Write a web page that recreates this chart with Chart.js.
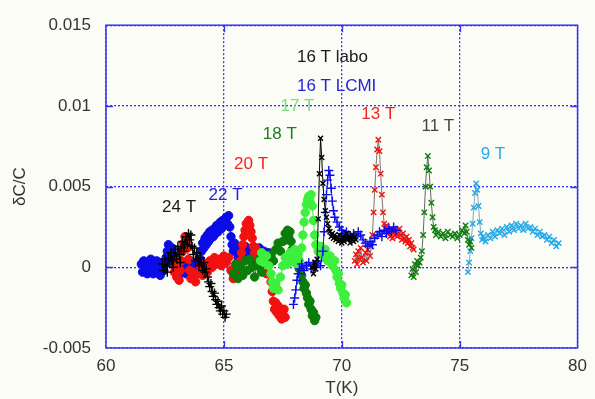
<!DOCTYPE html>
<html>
<head>
<meta charset="utf-8">
<script src="https://cdn.jsdelivr.net/npm/chart.js@4/dist/chart.umd.min.js"></script>
<style>
  html, body { margin: 0; padding: 0; background: #fcfcf6; }
  canvas { display: block; }
</style>
</head>
<body>
<canvas id="chart" width="595" height="399"></canvas>
<script>
// Axis ticks
const xTicks = [60, 65, 70, 75, 80];
const yTicks = [-0.005, 0, 0.005, 0.01, 0.015];
const yTickLabels = ['-0.005', '0', '0.005', '0.01', '0.015'];

// 24 T
const t24 = [62.4,62.45,62.5,62.55,62.6,62.65,62.7,62.75,62.8,62.85,
             62.9,62.95,63.0,63.05,63.1,63.15,63.2,63.25,63.3,63.35,
             63.4,63.45,63.5,63.55,63.6,63.65,63.7,63.75,63.8,63.85,
             63.9,63.95,64.0,64.05,64.1,64.15,64.2,64.25,64.3,64.35,
             64.4,64.45,64.5,64.55,64.6,64.65,64.7,64.75,64.8,64.85,
             64.9,64.95,65.0,65.05,65.1];
const c24 = [0.0002,-0.0002,0.0005,0.0001,-0.0003,0.0006,0.0002,0.0009,0.0004,0.0000,
             0.0007,0.0011,0.0005,0.0013,0.0008,0.0003,0.0012,0.0016,0.0010,0.0015,
             0.0019,0.0014,0.0021,0.0017,0.0020,0.0013,0.0008,0.0012,0.0004,0.0009,
             0.0005,0.0001,0.0006,0.0002,-0.0002,0.0003,-0.0003,-0.0001,-0.0006,-0.0009,
             -0.0012,-0.0010,-0.0015,-0.0018,-0.0016,-0.0020,-0.0023,-0.0021,-0.0025,-0.0027,
             -0.0024,-0.0029,-0.0027,-0.0031,-0.0029];

// 22 T
const t22 = [61.5,61.55,61.6,61.65,61.7,61.75,61.8,61.85,61.9,61.95,
             62.0,62.05,62.1,62.15,62.2,62.25,62.3,62.35,62.4,62.45,
             62.5,62.55,62.6,62.65,62.7,62.75,62.8,62.85,62.9,62.95,
             63.0,63.05,63.1,63.15,63.2,63.3,63.4,63.5,63.6,63.7,
             63.8,63.9,64.0,64.05,64.1,64.15,64.2,64.25,64.3,64.35,
             64.4,64.45,64.5,64.55,64.6,64.65,64.7,64.75,64.8,64.85,
             64.9,64.95,65.0,65.05,65.1,65.15,65.2,65.25,65.3,65.35,
             65.4,65.45,65.5,65.6,65.7,65.8,65.9,66.0,66.1,66.2,
             66.3,66.4,66.5,66.6,66.7,66.8,66.9,67.0];
const c22 = [0.0002,-0.0003,0.0004,-0.0001,0.0003,-0.0004,0.0001,-0.0002,0.0005,0.0000,
             -0.0004,0.0002,-0.0001,0.0004,-0.0003,0.0001,-0.0005,0.0000,0.0003,-0.0002,
             0.0002,0.0006,0.0010,0.0014,0.0011,0.0007,0.0012,0.0008,0.0004,0.0000,
             -0.0003,0.0002,-0.0005,0.0001,-0.0002,0.0003,-0.0004,0.0000,-0.0006,-0.0002,
             0.0003,-0.0001,0.0005,0.0010,0.0015,0.0012,0.0018,0.0014,0.0020,0.0016,
             0.0022,0.0018,0.0023,0.0019,0.0024,0.0021,0.0026,0.0022,0.0025,0.0028,
             0.0024,0.0029,0.0026,0.0030,0.0031,0.0027,0.0032,0.0025,0.0019,0.0014,
             0.0010,0.0015,0.0011,0.0006,0.0012,0.0007,0.0013,0.0008,0.0011,0.0005,
             0.0010,0.0006,0.0012,0.0007,0.0010,0.0005,0.0009,0.0006];

// 20 T
const t20 = [62.9,62.95,63.0,63.05,63.1,63.15,63.2,63.25,63.3,63.35,
             63.4,63.45,63.5,63.55,63.6,63.7,63.8,63.9,64.0,64.1,
             64.2,64.3,64.4,64.5,64.6,64.7,64.8,64.9,65.0,65.1,
             65.2,65.3,65.4,65.5,65.6,65.7,65.75,65.8,65.85,65.9,
             65.95,66.0,66.05,66.1,66.15,66.2,66.25,66.3,66.35,66.4,
             66.5,66.6,66.7,66.8,66.9,67.0,67.05,67.1,67.15,67.2,
             67.25,67.3,67.35,67.4,67.45,67.5,67.55,67.6];
const c20 = [-0.0003,0.0003,-0.0006,0.0000,-0.0008,-0.0002,0.0004,0.0010,0.0015,0.0019,
             0.0016,0.0012,0.0005,-0.0002,-0.0007,-0.0003,-0.0009,-0.0004,0.0001,-0.0005,
             0.0002,-0.0003,0.0004,0.0000,0.0006,0.0002,0.0005,0.0001,0.0007,0.0003,
             0.0006,-0.0002,-0.0007,0.0000,-0.0005,0.0004,0.0009,0.0014,0.0019,0.0023,
             0.0027,0.0025,0.0029,0.0026,0.0022,0.0018,0.0013,0.0009,0.0012,0.0006,
             0.0002,0.0008,0.0003,-0.0004,0.0001,-0.0009,-0.0015,-0.0021,-0.0026,-0.0022,
             -0.0028,-0.0024,-0.0030,-0.0027,-0.0032,-0.0029,-0.0026,-0.0031];

// 18 T
const t18 = [65.4,65.5,65.6,65.7,65.8,65.9,66.0,66.1,66.2,66.3,
             66.4,66.5,66.6,66.7,66.8,66.9,67.0,67.1,67.2,67.3,
             67.4,67.5,67.6,67.65,67.7,67.75,67.8,67.85,67.9,68.0,
             68.1,68.15,68.2,68.3,68.35,68.4,68.45,68.5,68.55,68.6,
             68.65,68.7,68.75,68.8,68.85,68.9];
const c18 = [-0.0004,0.0002,-0.0007,0.0000,-0.0005,0.0004,-0.0002,0.0005,0.0000,-0.0006,
             0.0001,0.0005,-0.0003,0.0003,0.0007,0.0002,0.0008,0.0004,0.0011,0.0015,
             0.0010,0.0016,0.0021,0.0017,0.0023,0.0019,0.0022,0.0016,0.0011,0.0006,
             0.0002,0.0005,-0.0001,-0.0005,-0.0009,-0.0013,-0.0011,-0.0016,-0.0019,-0.0023,
             -0.0021,-0.0026,-0.0030,-0.0028,-0.0033,-0.0031];

// 17 T
const t17 = [66.55,66.6,66.7,66.8,66.9,67.0,67.05,67.1,67.2,67.3,
             67.4,67.5,67.6,67.7,67.8,67.9,68.0,68.05,68.1,68.15,
             68.2,68.3,68.35,68.4,68.45,68.5,68.55,68.6,68.65,68.7,
             68.75,68.8,68.85,68.9,69.0,69.1,69.2,69.3,69.4,69.5,
             69.6,69.7,69.75,69.8,69.85,69.9,69.95,70.0,70.05,70.1,
             70.15,70.2];
const c17 = [0.0004,0.0009,0.0003,0.0007,0.0001,-0.0004,-0.0009,-0.0013,-0.0010,-0.0014,
             -0.0006,0.0001,0.0006,0.0002,0.0009,0.0004,0.0011,0.0006,0.0002,0.0008,
             0.0004,0.0012,0.0020,0.0028,0.0034,0.0039,0.0042,0.0044,0.0041,0.0045,
             0.0038,0.0029,0.0020,0.0014,0.0010,0.0013,0.0007,0.0011,0.0004,0.0007,
             0.0001,0.0004,-0.0002,-0.0006,-0.0004,-0.0010,-0.0013,-0.0011,-0.0016,-0.0019,
             -0.0017,-0.0022];

// 16 T LCMI
const t16L = [67.95,68.0,68.05,68.1,68.15,68.2,68.3,68.4,68.5,68.6,
              68.7,68.8,68.9,69.0,69.1,69.2,69.25,69.3,69.35,69.4,
              69.45,69.5,69.55,69.6,69.65,69.7,69.8,69.9,70.0,70.05,
              70.1,70.2,70.3,70.4,70.5,70.6,70.7,70.8,70.9,71.0,
              71.1,71.2,71.3,71.4,71.5,71.6,71.7,71.8,71.9,72.0,
              72.1,72.2,72.3];
const c16L = [-0.0023,-0.0019,-0.0014,-0.0008,-0.0004,-0.0001,0.0002,-0.0002,0.0001,0.0003,
              -0.0001,0.0002,0.0000,0.0004,0.0001,0.0010,0.0022,0.0034,0.0045,0.0054,
              0.0060,0.0057,0.0049,0.0041,0.0035,0.0031,0.0028,0.0025,0.0023,0.0021,
              0.0019,0.0022,0.0020,0.0018,0.0021,0.0019,0.0022,0.0020,0.0017,0.0015,
              0.0013,0.0016,0.0014,0.0018,0.0020,0.0022,0.0019,0.0023,0.0021,0.0024,
              0.0022,0.0025,0.0023];

// 16 T labo
const t16 = [68.75,68.8,68.85,68.9,68.95,69.0,69.05,69.1,69.15,69.2,
             69.25,69.3,69.35,69.4,69.45,69.5,69.55,69.6,69.65,69.7,
             69.75,69.8,69.85,69.9,69.95,70.0,70.05,70.1,70.15,70.2,
             70.25,70.3,70.35,70.4,70.45,70.5,70.55,70.6];
const c16 = [0.0000,-0.0004,0.0003,-0.0001,0.0005,0.0030,0.0058,0.0080,0.0068,0.0052,
             0.0042,0.0035,0.0031,0.0027,0.0024,0.0022,0.0019,0.0021,0.0018,0.0020,
             0.0017,0.0019,0.0016,0.0020,0.0017,0.0015,0.0019,0.0016,0.0018,0.0021,
             0.0017,0.0019,0.0015,0.0018,0.0020,0.0016,0.0019,0.0017];

// 13 T
const t13 = [70.55,70.6,70.65,70.7,70.75,70.8,70.85,70.9,71.0,71.05,
             71.1,71.2,71.25,71.3,71.35,71.4,71.45,71.5,71.55,71.6,
             71.65,71.7,71.75,71.8,71.85,71.9,71.95,72.0,72.05,72.1,
             72.15,72.2,72.25,72.3,72.35,72.4,72.45,72.5,72.55,72.6,
             72.65,72.7,72.75,72.8,72.85,72.9,72.95,73.0,73.05];
const c13 = [0.0004,0.0008,0.0002,0.0010,0.0005,0.0012,0.0006,0.0003,0.0009,0.0004,
             0.0011,0.0007,0.0013,0.0020,0.0034,0.0048,0.0062,0.0073,0.0079,0.0072,
             0.0058,0.0045,0.0034,0.0027,0.0024,0.0026,0.0021,0.0023,0.0019,0.0024,
             0.0018,0.0022,0.0020,0.0023,0.0019,0.0021,0.0024,0.0020,0.0017,0.0021,
             0.0018,0.0016,0.0019,0.0015,0.0017,0.0013,0.0015,0.0012,0.0011];

// 11 T
const t11 = [72.95,73.0,73.05,73.1,73.15,73.2,73.25,73.3,73.35,73.4,
             73.45,73.5,73.55,73.6,73.65,73.7,73.75,73.8,73.85,73.9,
             73.95,74.0,74.1,74.2,74.3,74.4,74.5,74.6,74.7,74.8,
             74.9,75.0,75.1,75.2,75.25,75.3,75.35,75.4,75.45,75.5];
const c11 = [-0.0005,-0.0001,-0.0006,0.0002,-0.0003,0.0004,0.0001,0.0003,0.0006,0.0010,
             0.0020,0.0034,0.0050,0.0062,0.0069,0.0060,0.0050,0.0040,0.0031,0.0025,
             0.0023,0.0020,0.0022,0.0019,0.0021,0.0018,0.0022,0.0020,0.0019,0.0021,
             0.0018,0.0020,0.0023,0.0021,0.0026,0.0022,0.0017,0.0014,0.0016,0.0012];

// 9 T
const t9 = [75.35,75.4,75.45,75.5,75.55,75.6,75.65,75.7,75.75,75.8,
            75.85,75.9,75.95,76.0,76.1,76.2,76.3,76.4,76.5,76.6,
            76.7,76.8,76.9,77.0,77.1,77.2,77.3,77.4,77.5,77.6,
            77.7,77.8,77.9,78.0,78.1,78.2,78.3,78.4,78.5,78.6,
            78.7,78.8,78.9,79.0,79.1,79.2];
const c9 = [-0.0003,0.0003,0.0010,0.0018,0.0027,0.0037,0.0046,0.0052,0.0048,0.0038,
            0.0028,0.0021,0.0017,0.0019,0.0016,0.0020,0.0018,0.0022,0.0019,0.0023,
            0.0021,0.0024,0.0020,0.0025,0.0022,0.0026,0.0023,0.0027,0.0024,0.0026,
            0.0023,0.0027,0.0024,0.0025,0.0022,0.0024,0.0020,0.0022,0.0019,0.0020,
            0.0017,0.0019,0.0015,0.0017,0.0013,0.0015];

const pts = (t, c) => t.map((v, i) => ({ x: v, y: c[i] }));

const BLUE = '#0c0ce8';
const RED = '#f21010';
const DKGREEN = '#0a7d0a';
const LTGREEN = '#3ef03e';
const SKY = '#1eaaea';
const GRID = '#3434f4';
const FONT = { family: '"Liberation Sans", Arial, sans-serif', size: 17 };

function marks(label, data, style, pointColor, lineColor, radius) {
  const filled = style === 'circle';
  return {
    label, data, showLine: true,
    borderColor: lineColor, borderWidth: 1,
    pointStyle: style,
    pointRadius: radius,
    pointBorderColor: pointColor,
    pointBackgroundColor: filled ? pointColor : 'rgba(0,0,0,0)',
    pointBorderWidth: filled ? 1 : 1.4,
    fill: false, tension: 0
  };
}

// Field labels, anchored in data coordinates (left edge, vertical middle)
const fieldLabels = [
  { text: '16 T labo', x: 68.1, y: 0.01298, color: '#1a1a1a' },
  { text: '16 T LCMI', x: 68.1, y: 0.01119, color: '#2424d8' },
  { text: '17 T', x: 67.4, y: 0.00996, color: '#7ae07a' },
  { text: '18 T', x: 66.65, y: 0.00824, color: '#217c21' },
  { text: '20 T', x: 65.43, y: 0.0064, color: '#ee2424' },
  { text: '22 T', x: 64.35, y: 0.00449, color: '#2424d8' },
  { text: '24 T', x: 62.38, y: 0.00369, color: '#1a1a1a' },
  { text: '13 T', x: 70.83, y: 0.00947, color: '#ee2424' },
  { text: '11 T', x: 73.38, y: 0.00873, color: '#3c4a3c' },
  { text: '9 T', x: 75.89, y: 0.00701, color: '#26aaee' }
];

const framePlugin = {
  id: 'frame',
  beforeDraw(chart) {
    const ctx = chart.ctx;
    ctx.save();
    ctx.fillStyle = '#fcfcf6';
    ctx.fillRect(0, 0, chart.width, chart.height);
    ctx.restore();
  },
  afterDatasetsDraw(chart) {
    const { ctx, chartArea: a, scales } = chart;
    ctx.save();
    ctx.strokeStyle = GRID;
    ctx.lineWidth = 1.5;
    ctx.strokeRect(a.left, a.top, a.right - a.left, a.bottom - a.top);
    // short solid ticks pointing inward on every side
    ctx.lineWidth = 1.3;
    const len = 7;
    ctx.beginPath();
    xTicks.slice(1, -1).forEach(v => {
      const px = Math.round(scales.x.getPixelForValue(v)) + 0.5;
      ctx.moveTo(px, a.bottom); ctx.lineTo(px, a.bottom - len);
      ctx.moveTo(px, a.top); ctx.lineTo(px, a.top + len);
    });
    yTicks.slice(1, -1).forEach(v => {
      const py = Math.round(scales.y.getPixelForValue(v)) + 0.5;
      ctx.moveTo(a.left, py); ctx.lineTo(a.left + len, py);
      ctx.moveTo(a.right, py); ctx.lineTo(a.right - len, py);
    });
    ctx.stroke();
    // field labels
    ctx.font = `${FONT.size}px ${FONT.family}`;
    ctx.textAlign = 'left';
    ctx.textBaseline = 'middle';
    fieldLabels.forEach(l => {
      ctx.fillStyle = l.color;
      ctx.fillText(l.text, scales.x.getPixelForValue(l.x), scales.y.getPixelForValue(l.y));
    });
    ctx.restore();
  }
};

new Chart(document.getElementById('chart'), {
  type: 'scatter',
  data: {
    datasets: [
      marks('16 T labo', pts(t16, c16), 'crossRot', '#000000', '#000000', 3.5),
      marks('16 T LCMI', pts(t16L, c16L), 'cross', BLUE, BLUE, 4.5),
      marks('13 T', pts(t13, c13), 'crossRot', RED, '#777777', 3.8),
      marks('11 T', pts(t11, c11), 'crossRot', DKGREEN, '#666666', 3.8),
      marks('9 T', pts(t9, c9), 'crossRot', SKY, '#8aa8b8', 3.8),
      marks('24 T', pts(t24, c24), 'cross', '#000000', '#000000', 4.5),
      marks('17 T', pts(t17, c17), 'circle', LTGREEN, LTGREEN, 4.2),
      marks('18 T', pts(t18, c18), 'circle', DKGREEN, DKGREEN, 4.2),
      marks('20 T', pts(t20, c20), 'circle', RED, RED, 4.2),
      marks('22 T', pts(t22, c22), 'circle', BLUE, BLUE, 4.2)
    ]
  },
  options: {
    responsive: false,
    animation: false,
    layout: { padding: { left: 0, top: 23, right: 11, bottom: 0 } },
    plugins: { legend: { display: false }, tooltip: { enabled: false } },
    scales: {
      x: {
        type: 'linear', min: 60, max: 80,
        afterBuildTicks: s => { s.ticks = xTicks.map(v => ({ value: v })); },
        afterFit: s => { s.height = 51; },
        ticks: { font: FONT, color: '#333333', padding: 8, maxRotation: 0, callback: v => String(v) },
        grid: { color: GRID, lineWidth: 1.3, drawTicks: false },
        border: { display: false, dash: [2, 2] },
        title: { display: true, text: 'T(K)', font: FONT, color: '#333333', padding: { top: 0, bottom: 0 } }
      },
      y: {
        type: 'linear', min: -0.005, max: 0.015,
        afterBuildTicks: s => { s.ticks = yTicks.map(v => ({ value: v })); },
        afterFit: s => { s.width = 106; },
        ticks: { font: FONT, color: '#333333', padding: 15, callback: (v, i) => yTickLabels[i] },
        grid: { color: GRID, lineWidth: 1.3, drawTicks: false },
        border: { display: false, dash: [2, 2] },
        title: { display: true, text: 'δC/C', font: FONT, color: '#333333', padding: { top: 10, bottom: 0 } }
      }
    }
  },
  plugins: [framePlugin]
});
</script>
</body>
</html>
